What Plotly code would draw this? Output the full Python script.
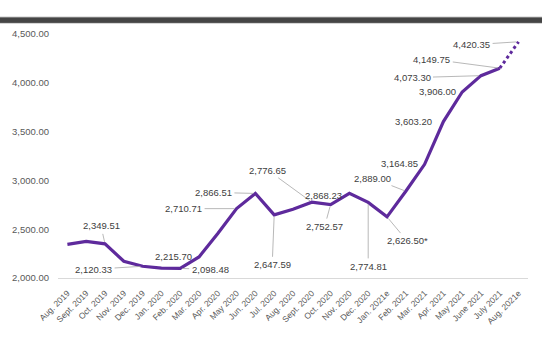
import plotly.graph_objects as go

months = ["Aug. 2019", "Sept. 2019", "Oct. 2019", "Nov. 2019", "Dec. 2019",
          "Jan. 2020", "Feb. 2020", "Mar. 2020", "Apr. 2020", "May 2020",
          "Jun. 2020", "Jul. 2020", "Aug. 2020", "Sept. 2020", "Oct. 2020",
          "Nov. 2020", "Dec. 2020", "Jan. 2021e", "Feb. 2021", "Mar. 2021",
          "Apr. 2021", "May 2021", "June 2021", "July 2021", "Aug. 2021e"]
values = [2345.00, 2375.00, 2349.51, 2172.00, 2120.33,
          2102.00, 2098.48, 2215.70, 2457.00, 2710.71,
          2866.51, 2647.59, 2705.00, 2776.65, 2752.57,
          2868.23, 2774.81, 2626.50, 2889.00, 3164.85,
          3603.20, 3906.00, 4073.30, 4149.75, 4420.35]
point_labels = ["", "", "2,349.51", "", "2,120.33",
                "", "2,098.48", "2,215.70", "", "2,710.71",
                "2,866.51", "2,647.59", "", "2,776.65", "2,752.57",
                "2,868.23", "2,774.81", "2,626.50*", "2,889.00", "3,164.85",
                "3,603.20", "3,906.00", "4,073.30", "4,149.75", "4,420.35"]
# label offsets (px) from each point: (dx, dy, draw leader)
label_offsets = {
    2: (-4, -18, True), 4: (-49, 3, True), 6: (30, 1, True),
    7: (-26, 0, False), 9: (-53, 0, True), 10: (-42, -1, True),
    11: (-2, 50, True), 13: (-44, -32, True), 14: (-6, 22, True),
    15: (-26, 2, False), 16: (0, 64, True), 17: (20, 24, True),
    18: (-33, -13, True), 19: (-25, -1, False), 20: (-30, 0, False),
    21: (-25, 0, False), 22: (-69, 2, True), 23: (-68, -9, True),
    24: (-47, 3, True),
}

purple = "#5e2a9c"
fig = go.Figure()
fig.add_trace(go.Scatter(x=months[:-1], y=values[:-1], mode="lines",
                         line=dict(color=purple, width=3.2),
                         hoverinfo="x+y"))
fig.add_trace(go.Scatter(x=months[-2:], y=values[-2:], mode="lines",
                         line=dict(color=purple, width=3, dash="dot"),
                         hoverinfo="x+y"))

for i, text in enumerate(point_labels):
    if not text:
        continue
    dx, dy, leader = label_offsets[i]
    fig.add_annotation(x=months[i], y=values[i], text=text,
                       ax=dx, ay=dy, showarrow=True, arrowhead=0,
                       arrowwidth=0.8,
                       arrowcolor="#a6a6a6" if leader else "rgba(0,0,0,0)",
                       standoff=2, startstandoff=1,
                       font=dict(family="Liberation Sans, Arial", size=9.5,
                                 color="#404040"))

# heavy rule across the top of the figure
fig.add_shape(type="rect", xref="paper", yref="paper",
              x0=-0.2, x1=1.2, y0=(338 - 23 - 58) / 246, y1=(338 - 17 - 58) / 246,
              fillcolor="#454545", line=dict(color="#8a8a8a", width=0.6),
              layer="above")

fig.update_layout(
    width=542, height=338,
    margin=dict(l=52, r=14, t=34, b=58),
    paper_bgcolor="white", plot_bgcolor="white",
    showlegend=False,
    font=dict(family="Liberation Sans, Arial", color="#595959"),
    xaxis=dict(type="category", range=[-0.5, 24.5], tickangle=-45,
               showgrid=False, showline=True, linecolor="#d9d9d9",
               linewidth=1, ticks="outside", ticklen=6,
               tickcolor="rgba(0,0,0,0)",
               tickfont=dict(size=8.5, color="#595959")),
    yaxis=dict(range=[2000, 4500], tickvals=[2000, 2500, 3000, 3500, 4000, 4500],
               tickformat=",.2f", showgrid=False, zeroline=False, showline=False,
               ticks="", ticklabelstandoff=8,
               tickfont=dict(size=9.5, color="#595959")),
)

fig.write_html("out.html")
